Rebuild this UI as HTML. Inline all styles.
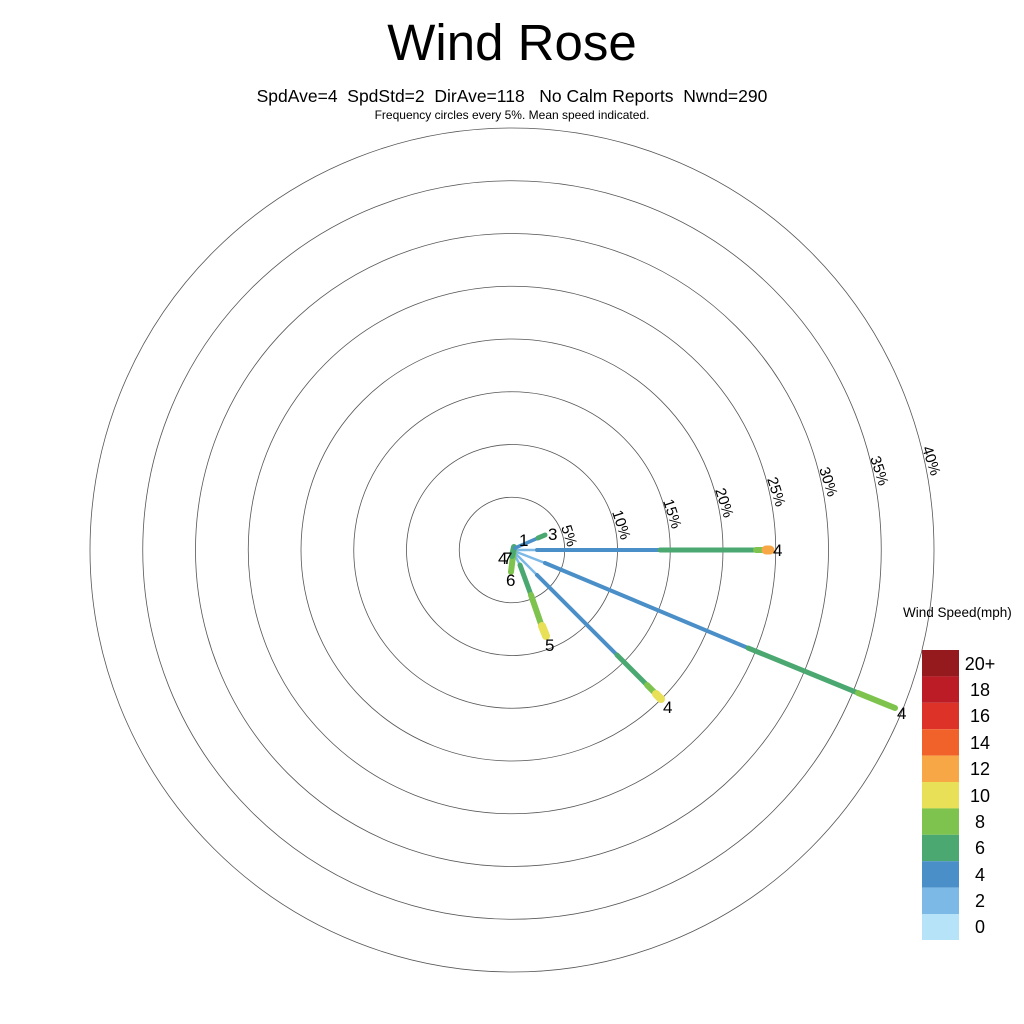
<!DOCTYPE html>
<html><head><meta charset="utf-8"><style>
html,body{margin:0;padding:0;background:#fff}
svg{display:block}
text{font-family:"Liberation Sans",Arial,sans-serif;fill:#000;white-space:pre}
</style></head><body>
<svg width="1024" height="1024" viewBox="0 0 1024 1024" xmlns="http://www.w3.org/2000/svg" xml:space="preserve">
<rect width="1024" height="1024" fill="#fff"/>
<text x="512" y="60" font-size="51" text-anchor="middle">Wind Rose</text>
<text x="512" y="102" font-size="17.5" text-anchor="middle">SpdAve=4  SpdStd=2  DirAve=118   No Calm Reports  Nwnd=290</text>
<text x="512" y="119" font-size="12" text-anchor="middle">Frequency circles every 5%. Mean speed indicated.</text>
<g fill="none" stroke="#555" stroke-width="0.8">
<circle cx="512" cy="550" r="52.75"/><circle cx="512" cy="550" r="105.5"/>
<circle cx="512" cy="550" r="158.25"/><circle cx="512" cy="550" r="211"/>
<circle cx="512" cy="550" r="263.75"/><circle cx="512" cy="550" r="316.5"/>
<circle cx="512" cy="550" r="369.25"/><circle cx="512" cy="550" r="422"/>
</g>
<g font-size="15">
<text transform="translate(561,527) rotate(72)">5%</text>
<text transform="translate(612,512) rotate(72)">10%</text>
<text transform="translate(663,501) rotate(72)">15%</text>
<text transform="translate(715,490) rotate(72)">20%</text>
<text transform="translate(767,479) rotate(72)">25%</text>
<text transform="translate(819,469) rotate(72)">30%</text>
<text transform="translate(870,458) rotate(72)">35%</text>
<text transform="translate(922,448) rotate(72)">40%</text>
</g>
<g fill="none" stroke-linecap="round">
<line x1="514" y1="550" x2="537" y2="550" stroke="#7cb9e6" stroke-width="2.5"/>
<line x1="537" y1="550" x2="660" y2="550" stroke="#4a8fc7" stroke-width="4"/>
<line x1="660" y1="550" x2="756" y2="550" stroke="#4aa870" stroke-width="5"/>
<line x1="756" y1="550" x2="765" y2="550" stroke="#7dc34d" stroke-width="6"/>
<line x1="766" y1="550" x2="770" y2="550" stroke="#f7a745" stroke-width="9"/>
<line x1="514" y1="551" x2="545" y2="563" stroke="#7cb9e6" stroke-width="2.5"/>
<line x1="545" y1="563" x2="748" y2="648" stroke="#4a8fc7" stroke-width="4"/>
<line x1="748" y1="648" x2="858" y2="693" stroke="#4aa870" stroke-width="5"/>
<line x1="858" y1="693" x2="895" y2="708" stroke="#7dc34d" stroke-width="6"/>
<line x1="514" y1="552" x2="537" y2="575" stroke="#7cb9e6" stroke-width="2.5"/>
<line x1="537" y1="575" x2="617" y2="655" stroke="#4a8fc7" stroke-width="4"/>
<line x1="617" y1="655" x2="647" y2="685" stroke="#4aa870" stroke-width="5"/>
<line x1="647" y1="685" x2="655" y2="693" stroke="#7dc34d" stroke-width="6"/>
<line x1="656" y1="694" x2="661" y2="699" stroke="#e8e057" stroke-width="8"/>
<line x1="513" y1="552" x2="520" y2="565" stroke="#7cb9e6" stroke-width="2.5"/>
<line x1="520" y1="565" x2="531" y2="595" stroke="#4aa870" stroke-width="5"/>
<line x1="531" y1="595" x2="541" y2="624" stroke="#7dc34d" stroke-width="6"/>
<line x1="542" y1="626" x2="546" y2="636" stroke="#e8e057" stroke-width="8"/>
<line x1="514" y1="548" x2="511" y2="572" stroke="#7dc34d" stroke-width="6"/>
<line x1="514" y1="547" x2="512" y2="556" stroke="#4aa870" stroke-width="6"/>
<line x1="515" y1="548" x2="538" y2="538" stroke="#4a8fc7" stroke-width="3.5"/>
<line x1="538" y1="538" x2="545" y2="535" stroke="#4aa870" stroke-width="5"/>
</g>
<g font-size="17">
<text x="519" y="546">1</text>
<text x="548" y="540">3</text>
<text x="498" y="564">4</text>
<text x="503" y="564">7</text>
<text x="506" y="586">6</text>
<text x="545" y="651">5</text>
<text x="773" y="556">4</text>
<text x="663" y="713">4</text>
<text x="897" y="719">4</text>
</g>
<text x="903" y="617" font-size="13.5">Wind Speed(mph)</text>
<g>
<rect x="922" y="650" width="37" height="26.4" fill="#941a1d"/>
<rect x="922" y="676.4" width="37" height="26.4" fill="#bb1c25"/>
<rect x="922" y="702.8" width="37" height="26.4" fill="#dc3228"/>
<rect x="922" y="729.2" width="37" height="26.4" fill="#f0622a"/>
<rect x="922" y="755.6" width="37" height="26.4" fill="#f7a745"/>
<rect x="922" y="782" width="37" height="26.4" fill="#e8e057"/>
<rect x="922" y="808.4" width="37" height="26.4" fill="#7dc34d"/>
<rect x="922" y="834.8" width="37" height="26.4" fill="#4aa870"/>
<rect x="922" y="861.2" width="37" height="26.4" fill="#4a8fc7"/>
<rect x="922" y="887.6" width="37" height="26.4" fill="#7cb9e6"/>
<rect x="922" y="914" width="37" height="26" fill="#b6e3f8"/>
</g>
<g font-size="18" text-anchor="middle">
<text x="980" y="670">20+</text>
<text x="980" y="696">18</text>
<text x="980" y="722">16</text>
<text x="980" y="749">14</text>
<text x="980" y="775">12</text>
<text x="980" y="802">10</text>
<text x="980" y="828">8</text>
<text x="980" y="854">6</text>
<text x="980" y="881">4</text>
<text x="980" y="907">2</text>
<text x="980" y="933">0</text>
</g>
</svg>
</body></html>
